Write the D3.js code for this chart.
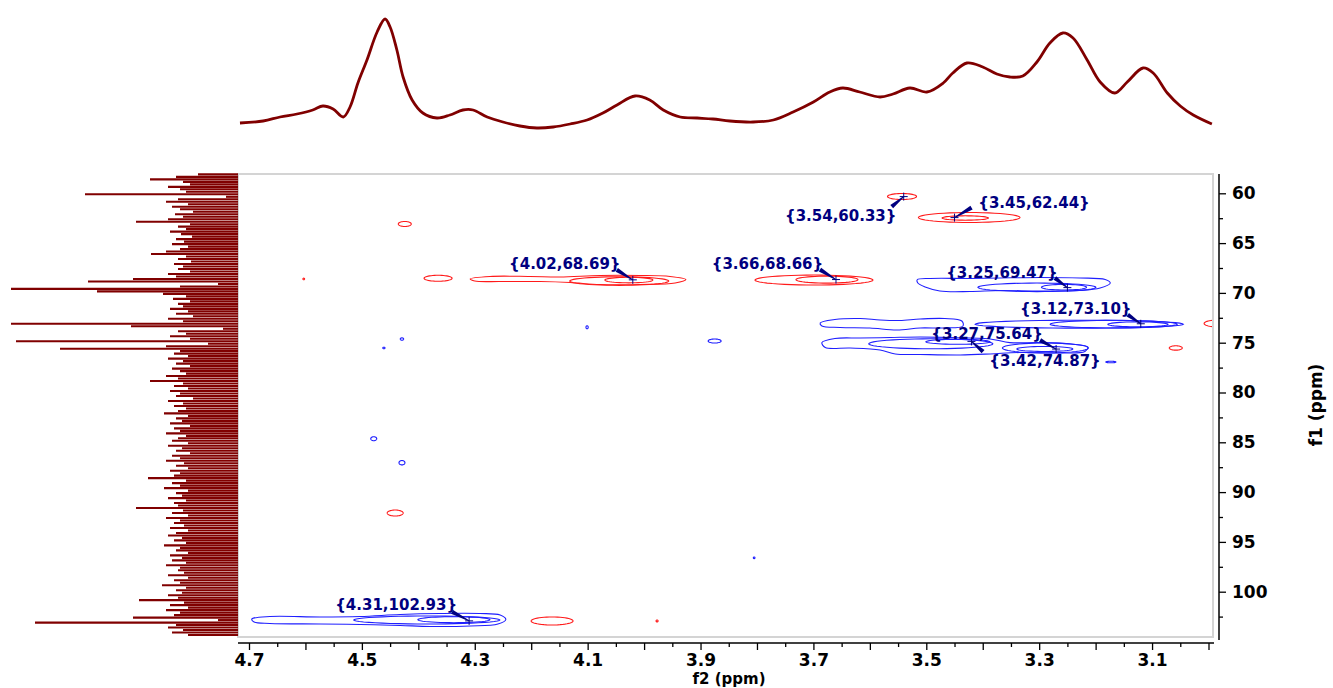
<!DOCTYPE html>
<html>
<head>
<meta charset="utf-8">
<script src="https://cdn.jsdelivr.net/npm/d3@7"></script>
<style>
  html, body { margin: 0; padding: 0; background: #fff; }
  svg { display: block; }
  text { font-family: "DejaVu Sans", Verdana, sans-serif; font-weight: bold; }
</style>
</head>
<body>
<svg id="chart" width="1333" height="688"></svg>
<script>
// ---------------- DATA ----------------
// top (f2) projection: chemical shift (ppm) and intensity (a.u.)
const topF2 = [4.716,4.675,4.645,4.615,4.587,4.569,4.551,4.533,4.521,4.507,4.491,4.473,4.459,4.450,4.438,4.427,4.411,4.392,4.367,4.344,4.321,4.303,4.278,4.250,4.220,4.190,4.161,4.131,4.101,4.073,4.048,4.016,3.990,3.966,3.936,3.906,3.878,3.848,3.807,3.771,3.736,3.700,3.671,3.648,3.618,3.582,3.559,3.529,3.499,3.470,3.453,3.428,3.400,3.375,3.352,3.329,3.304,3.281,3.258,3.240,3.215,3.192,3.166,3.144,3.116,3.098,3.073,3.050,3.027,2.994];
const topInt = [7,9,13,16,20,24,21,13,23,47,70,98,111,103,80,53,30,17,12,15,20,20,13,8,4,2,3,6,10,17,25,34,30,20,13,12,11,9,8,10,18,28,38,42,38,33,36,42,38,47,57,67,63,56,53,54,68,87,97,92,70,48,37,48,62,57,37,24,15,6];

// left (f1) projection: sampled from 58.1 ppm in 0.25 ppm steps
const projStartF1 = 58.1, projStepF1 = 0.25;
const projInt = [40,62,88,55,48,70,58,52,153,12,60,72,50,66,58,45,63,55,70,102,48,60,52,68,57,46,62,54,66,50,
58,72,87,52,60,47,64,55,60,48,70,62,105,150,20,58,227,141,75,52,65,48,60,55,68,50,62,45,70,55,
227,107,15,60,52,68,48,222,30,72,178,58,64,50,70,55,62,48,66,58,52,72,60,88,55,64,50,68,58,62,
45,70,55,64,52,60,74,50,62,56,68,48,64,58,72,52,60,66,50,70,56,62,48,66,58,72,54,62,50,68,
58,64,90,52,66,58,74,50,62,56,70,52,64,60,102,55,66,50,72,58,64,54,68,50,62,70,56,64,52,74,
58,62,50,68,56,66,52,72,58,60,54,70,50,64,58,76,52,62,56,70,60,99,54,68,50,72,58,64,105,20,
203,62,70,55,66,50];

// assigned cross peaks
const peakF2 = [3.54, 3.45, 4.02, 3.66, 3.25, 3.12, 3.27, 3.42, 4.31];
const peakF1 = [60.33, 62.44, 68.69, 68.66, 69.47, 73.10, 75.64, 74.87, 102.93];

// elliptical contour levels: centre (f2,f1), half-widths (ppm), phase (+1 blue, -1 red)
const ellF2 = [3.543,3.424,3.431,4.424,4.365,4.044,4.027,3.699,3.676,2.983,3.058,4.441,4.163,3.977,4.603,
               3.304,3.256,3.229,3.168,3.125,3.492,3.444,3.289,3.290,3.875,4.429,4.461,4.101,4.479,4.429,3.805,4.385,4.337,3.173];
const ellF1 = [60.32,62.43,62.48,63.08,68.53,68.81,68.71,68.71,68.67,73.07,75.53,92.10,102.94,102.94,68.60,
               69.44,69.43,73.14,73.14,73.16,75.11,74.91,75.53,75.63,74.83,74.63,75.53,73.45,84.64,87.05,96.6,102.84,102.81,76.94];
const ellW = [0.0257,0.090,0.041,0.0115,0.0248,0.0877,0.0425,0.1045,0.0549,0.0248,0.0115,0.0142,0.0372,0.0018,0.0015,
              0.1045,0.0399,0.1843,0.1125,0.0532,0.1099,0.0567,0.0762,0.0496,0.0115,0.003,0.002,0.002,0.0053,0.0053,0.0015,0.1293,0.0638,0.0089];
const ellH = [0.30,0.50,0.22,0.25,0.30,0.43,0.28,0.50,0.35,0.35,0.22,0.30,0.40,0.10,0.08,
              0.43,0.28,0.40,0.38,0.25,0.50,0.25,0.50,0.25,0.20,0.12,0.08,0.15,0.20,0.22,0.08,0.40,0.30,0.08];
const ellSign = [-1,-1,-1,-1,-1,-1,-1,-1,-1,-1,-1,-1,-1,-1,-1,
                 1,1,1,1,1,1,1,1,1,1,1,1,1,1,1,1,1,1,1];

// irregular outer contour levels (f2, f1) vertices
const contourRed402 = [[4.308,68.60],[4.273,68.35],[4.202,68.35],[4.149,68.40],[4.078,68.25],[4.007,68.25],[3.954,68.35],[3.926,68.65],[3.945,69.01],[4.007,69.16],[4.078,69.16],[4.131,68.96],[4.184,68.86],[4.255,68.86],[4.300,68.81]];
const contourBlue325 = [[3.516,68.68],[3.493,68.55],[3.423,68.55],[3.369,68.50],[3.299,68.45],[3.228,68.50],[3.183,68.65],[3.174,69.01],[3.192,69.51],[3.228,69.76],[3.299,69.81],[3.369,69.76],[3.423,69.86],[3.476,69.81],[3.502,69.41],[3.515,69.01]];
const contourBlue73 = [[3.688,73.02],[3.662,72.67],[3.617,72.57],[3.582,72.72],[3.547,72.77],[3.511,72.62],[3.467,72.57],[3.437,72.82],[3.435,73.32],[3.467,73.52],[3.511,73.52],[3.552,73.72],[3.600,73.52],[3.653,73.47],[3.685,73.32]];
const contourBlue75 = [[3.685,74.99],[3.662,74.58],[3.617,74.53],[3.564,74.48],[3.511,74.43],[3.458,74.48],[3.387,74.63],[3.352,74.99],[3.299,74.99],[3.245,75.13],[3.214,75.43],[3.219,75.88],[3.263,76.03],[3.334,75.98],[3.387,76.13],[3.440,76.23],[3.511,76.18],[3.555,76.13],[3.582,75.73],[3.635,75.53],[3.679,75.48]];
const contourBlue431 = [[4.695,102.74],[4.663,102.49],[4.574,102.54],[4.503,102.49],[4.432,102.29],[4.362,102.19],[4.291,102.19],[4.255,102.34],[4.245,102.79],[4.259,103.24],[4.308,103.44],[4.379,103.49],[4.432,103.39],[4.503,103.29],[4.574,103.24],[4.663,103.19],[4.691,103.04]];
const polyContours = [contourRed402, contourBlue325, contourBlue73, contourBlue75, contourBlue431];
const polySign = [-1, 1, 1, 1, 1];

// axis ticks
const xMajor = d3.range(30, 48).map(d => d / 10);   // 3.0 ... 4.7
const xMinor = d3.range(30, 47).map(d => d / 10 + 0.05);
const xLabels = [4.7, 4.5, 4.3, 4.1, 3.9, 3.7, 3.5, 3.3, 3.1];
const yMajor = [60, 65, 70, 75, 80, 85, 90, 95, 100];
const yMinor = [62.5, 67.5, 72.5, 77.5, 82.5, 87.5, 92.5, 97.5, 102.5];

// ---------------- LAYOUT ----------------
const svg = d3.select("#chart");
const frame = { left: 238, right: 1213, top: 174, bottom: 637 };
const x = d3.scaleLinear().domain([4.7, 3.0]).range([249, 1208.5]);
const y = d3.scaleLinear().domain([60, 100]).range([193.3, 591.7]);
const yTop = d3.scaleLinear().domain([0, 112]).range([130, 18]);
const projLen = d3.scaleLinear().domain([0, 230]).range([frame.left, 8]);

const RED = "#ff1a1a", BLUE = "#1f1fff", NAVY = "#000080", SPEC = "#800000";

// label offsets (px) relative to peak: text centre, leader start
const labelLayout = [
  { tx: -63, ty: 19.5, lx: -12, ly: 10 },
  { tx: 79.5, ty: -15, lx: 17, ly: -10 },
  { tx: -68, ty: -16, lx: -16, ly: -10 },
  { tx: -68.5, ty: -16, lx: -16, ly: -10 },
  { tx: -65.5, ty: -15, lx: -12.5, ly: -9.5 },
  { tx: -65, ty: -15, lx: -13, ly: -9 },
  { tx: -69, ty: -15, lx: -16, ly: -9 },
  { tx: 73.6, ty: 19.6, lx: 11.6, ly: 10.3 },
  { tx: -73, ty: -16, lx: -17, ly: -9 }
];

// frame
svg.append("rect")
  .attr("x", frame.left).attr("y", frame.top)
  .attr("width", frame.right - frame.left).attr("height", frame.bottom - frame.top)
  .attr("fill", "none").attr("stroke", "#d4d4d4").attr("stroke-width", 2);

// clip for contour area
svg.append("clipPath").attr("id", "plotclip").append("rect")
  .attr("x", frame.left + 1).attr("y", frame.top + 1)
  .attr("width", frame.right - frame.left - 2).attr("height", frame.bottom - frame.top - 2);

// top projection
const topData = topF2.map((f, i) => [f, topInt[i]]);
svg.append("path")
  .datum(topData)
  .attr("d", d3.line().x(d => x(d[0])).y(d => yTop(d[1])).curve(d3.curveCatmullRom.alpha(0.5)))
  .attr("fill", "none").attr("stroke", SPEC).attr("stroke-width", 2.8)
  .attr("stroke-linejoin", "round");

// left projection
const projData = projInt.map((v, i) => [projStartF1 + i * projStepF1, v]);
svg.append("g").selectAll("line").data(projData).join("line")
  .attr("x1", frame.left).attr("x2", d => projLen(d[1]))
  .attr("y1", d => y(d[0])).attr("y2", d => y(d[0]))
  .attr("stroke", SPEC).attr("stroke-width", 2.1);

// contours
const cg = svg.append("g").attr("clip-path", "url(#plotclip)");
const ellPts = d3.range(0, 48).map(k => 2 * Math.PI * k / 48);
const ellLine = d3.line().curve(d3.curveLinearClosed);
ellF2.forEach((cx, i) => {
  const pts = ellPts.map(t => [x(cx + ellW[i] * Math.cos(t)), y(ellF1[i] + ellH[i] * Math.sin(t))]);
  cg.append("path").attr("d", ellLine(pts))
    .attr("fill", "none").attr("stroke", ellSign[i] > 0 ? BLUE : RED).attr("stroke-width", 1.1);
});
const polyLine = d3.line().x(d => x(d[0])).y(d => y(d[1])).curve(d3.curveCatmullRomClosed.alpha(0.5));
polyContours.forEach((pts, i) => {
  cg.append("path").attr("d", polyLine(pts))
    .attr("fill", "none").attr("stroke", polySign[i] > 0 ? BLUE : RED).attr("stroke-width", 1.1);
});

// peak labels
const lg = svg.append("g");
peakF2.forEach((f2, i) => {
  const px = x(f2), py = y(peakF1[i]);
  const L = labelLayout[i];
  const sx = px + L.lx, sy = py + L.ly;
  const ang = Math.atan2(py - sy, px - sx);
  const nx = -Math.sin(ang), ny = Math.cos(ang);
  const w0 = 2.2, w1 = 0.5;
  lg.append("path")
    .attr("d", `M${sx + nx * w0},${sy + ny * w0}L${px + nx * w1},${py + ny * w1}L${px - nx * w1},${py - ny * w1}L${sx - nx * w0},${sy - ny * w0}Z`)
    .attr("fill", NAVY);
  lg.append("path")
    .attr("d", `M${px - 4},${py}H${px + 4}M${px},${py - 4}V${py + 4}`)
    .attr("stroke", NAVY).attr("stroke-width", 1);
  lg.append("text")
    .attr("x", px + L.tx).attr("y", py + L.ty)
    .attr("text-anchor", "middle").attr("dominant-baseline", "central")
    .attr("fill", NAVY).attr("font-size", 15)
    .text(`{${f2.toFixed(2)},${peakF1[i].toFixed(2)}}`);
});

// x axis
const xAxisY = 643;
svg.append("line").attr("x1", frame.left).attr("x2", frame.right + 1)
  .attr("y1", xAxisY).attr("y2", xAxisY).attr("stroke", "#000").attr("stroke-width", 1.5);
const gxMaj = svg.append("g").attr("transform", `translate(0,${xAxisY})`)
  .call(d3.axisBottom(x).tickValues(xMajor).tickSize(7).tickSizeOuter(0).tickPadding(4)
    .tickFormat(d => xLabels.some(v => Math.abs(v - d) < 1e-6) ? d.toFixed(1) : ""));
const gxMin = svg.append("g").attr("transform", `translate(0,${xAxisY})`)
  .call(d3.axisBottom(x).tickValues(xMinor).tickSize(4).tickSizeOuter(0).tickFormat(""));
[gxMaj, gxMin].forEach(g => {
  g.select(".domain").remove();
  g.selectAll("line").attr("stroke", "#000").attr("stroke-width", 1.3);
  g.selectAll("text").attr("font-size", 17).attr("fill", "#000")
    .attr("font-family", '"DejaVu Sans", Verdana, sans-serif').attr("font-weight", "bold");
});
svg.append("text").attr("x", 729).attr("y", 683.5).attr("text-anchor", "middle")
  .attr("font-size", 15).attr("fill", "#000").text("f2 (ppm)");

// y axis
const yAxisX = 1219;
svg.append("line").attr("x1", yAxisX).attr("x2", yAxisX)
  .attr("y1", frame.top).attr("y2", 640).attr("stroke", "#000").attr("stroke-width", 1.5);
const gyMaj = svg.append("g").attr("transform", `translate(${yAxisX},0)`)
  .call(d3.axisRight(y).tickValues(yMajor).tickSize(7).tickSizeOuter(0).tickPadding(6).tickFormat(d3.format("d")));
const gyMin = svg.append("g").attr("transform", `translate(${yAxisX},0)`)
  .call(d3.axisRight(y).tickValues(yMinor).tickSize(4).tickSizeOuter(0).tickFormat(""));
[gyMaj, gyMin].forEach(g => {
  g.select(".domain").remove();
  g.selectAll("line").attr("stroke", "#000").attr("stroke-width", 1.3);
  g.selectAll("text").attr("font-size", 17).attr("fill", "#000")
    .attr("font-family", '"DejaVu Sans", Verdana, sans-serif').attr("font-weight", "bold");
});
svg.append("text").attr("transform", "translate(1316,405) rotate(-90)")
  .attr("text-anchor", "middle").attr("dominant-baseline", "central")
  .attr("font-size", 17).attr("fill", "#000").text("f1 (ppm)");
</script>
</body>
</html>
